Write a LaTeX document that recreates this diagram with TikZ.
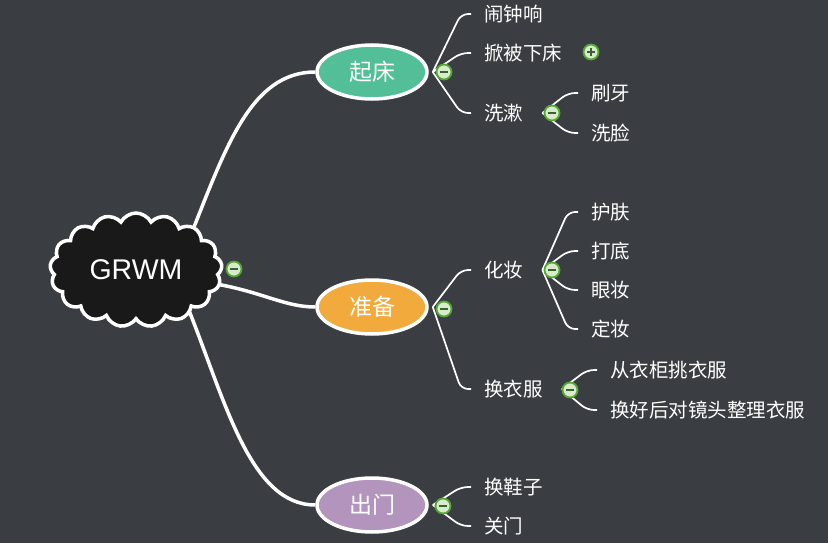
\documentclass[tikz,border=0pt]{standalone}
\usepackage{fontspec}
\setmainfont{Liberation Sans}
\newfontfamily\cjk{Noto Sans CJK SC}
\usetikzlibrary{shapes.symbols,shapes.geometric}
\definecolor{bgc}{HTML}{3A3E43}
\definecolor{cQ}{HTML}{52BF99}
\definecolor{cZ}{HTML}{F2AA3C}
\definecolor{cC}{HTML}{B294BC}
\definecolor{iconring}{HTML}{56A636}
\definecolor{iconfill}{HTML}{D6ECCB}
\definecolor{iconbar}{HTML}{3F5F35}
\pgfdeclarelayer{bg}
\pgfdeclarelayer{lines}
\pgfsetlayers{bg,lines,main}
\tikzset{
  txt/.style={anchor=west, inner sep=0pt, text=white, font=\cjk\fontsize{19.5}{21}\selectfont},
  topic/.style={ellipse, draw=white, line width=3.5pt, minimum width=110pt, minimum height=54pt, inner sep=0pt, text=white, font=\cjk\fontsize{23}{25}\selectfont},
  mainline/.style={draw=white, line width=3.5pt},
  subline/.style={draw=white, line width=1.7pt, rounded corners=7pt},
  minusicon/.style={circle, draw=iconring, line width=1.8pt, fill=iconfill, minimum size=15pt, inner sep=0pt,
    path picture={\draw[iconbar, line width=2pt] ([xshift=-4pt]path picture bounding box.center) -- ([xshift=4pt]path picture bounding box.center);}},
  plusicon/.style={minusicon,
    path picture={\draw[iconbar, line width=2pt] ([xshift=-4pt]path picture bounding box.center) -- ([xshift=4pt]path picture bounding box.center);
                  \draw[iconbar, line width=2pt] ([yshift=-4pt]path picture bounding box.center) -- ([yshift=4pt]path picture bounding box.center);}},
}
\begin{document}
\begin{tikzpicture}[x=1pt,y=-1pt]
\begin{pgfonlayer}{bg}
\fill[bgc] (0,0) rectangle (828,543);
\end{pgfonlayer}
\useasboundingbox (0,0) rectangle (828,543);

% central cloud
\node[cloud, cloud puffs=17, cloud puff arc=125, aspect=1.6, draw=white, line width=3.5pt,
      fill=black!90, minimum width=172pt, minimum height=114pt, inner sep=0pt,
      text=white, font=\fontsize{28.5}{30}\selectfont] (g) at (136,270) {GRWM};

% main topics
\node[topic, fill=cQ] (qc) at (372,72) {起床};
\node[topic, fill=cZ] (zb) at (372,307) {准备};
\node[topic, fill=cC] (cm) at (372,505) {出门};

% subtopics
\node[txt] (a1) at (484,14) {闹钟响};
\node[txt] (a2) at (484,53) {掀被下床};
\node[txt] (a3) at (484,113) {洗漱};
\node[txt] (a31) at (591,93) {刷牙};
\node[txt] (a32) at (591,133) {洗脸};

\node[txt] (b1) at (484,270) {化妆};
\node[txt] (b11) at (591,212) {护肤};
\node[txt] (b12) at (591,251) {打底};
\node[txt] (b13) at (591,290) {眼妆};
\node[txt] (b14) at (591,329) {定妆};
\node[txt] (b2) at (484,389) {换衣服};
\node[txt] (b21) at (610,370) {从衣柜挑衣服};
\node[txt] (b22) at (610,410) {换好后对镜头整理衣服};

\node[txt] (c1) at (484,487) {换鞋子};
\node[txt] (c2) at (484,526) {关门};

% fork points
\coordinate (fq) at ([xshift=4pt]qc.east);
\coordinate (fz) at ([xshift=4pt]zb.east);
\coordinate (fc) at ([xshift=4pt]cm.east);
\coordinate (fa3) at ([xshift=19pt]a3.east);
\coordinate (fb1) at ([xshift=19pt]b1.east);
\coordinate (fb2) at ([xshift=19pt]b2.east);

\begin{pgfonlayer}{lines}
% main branches
\draw[mainline] ([shift={(54,-33)}]g.center) .. controls (225,150) and (250,72) .. (qc.west);
\draw[mainline] ([shift={(80,14)}]g.center) .. controls (262,292) and (285,307) .. (zb.west);
\draw[mainline] ([shift={(52,38)}]g.center) .. controls (225,400) and (250,505) .. (cm.west);
% sub branches
\foreach \p/\c in {fq/a1, fq/a2, fq/a3, fa3/a31, fa3/a32,
                   fz/b1, fz/b2, fb1/b11, fb1/b12, fb1/b13, fb1/b14, fb2/b21, fb2/b22,
                   fc/c1, fc/c2}
  \draw[subline] (\p) -- ([xshift=-23pt]\c.west) -- ([xshift=-13pt]\c.west);
\end{pgfonlayer}

% collapse icons
\node[minusicon] (ig) at (234,269) {};
\node[minusicon] (iq) at (444,72) {};
\node[minusicon] (iz) at (444,309) {};
\node[minusicon] (ic) at (443,506) {};
\node[minusicon] (ia3) at (552,113) {};
\node[minusicon] (ib1) at (552,270) {};
\node[minusicon] (ib2) at (570,390) {};
\node[plusicon] (ia2) at (591,52) {};
\end{tikzpicture}
\end{document}
